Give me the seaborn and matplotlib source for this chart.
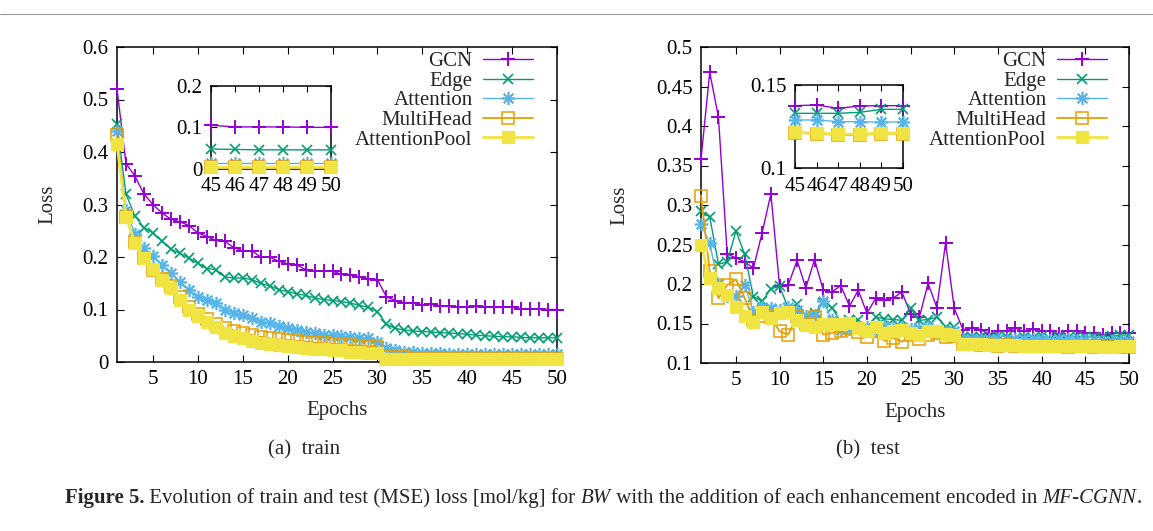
import numpy as np
import pandas as pd
import matplotlib
matplotlib.use("Agg")
import matplotlib.pyplot as plt
from matplotlib.lines import Line2D
from matplotlib.ticker import FuncFormatter, FixedLocator
import seaborn as sns

sns.set_style("ticks")
plt.rcParams['font.family'] = ['Liberation Serif', 'DejaVu Serif']
plt.rcParams['axes.linewidth'] = 1.1

epochs = list(range(1, 51))
series = ["GCN", "Edge", "Attention", "MultiHead", "AttentionPool"]

train_gcn = [0.520, 0.378, 0.354, 0.320, 0.300, 0.284, 0.272, 0.267, 0.260, 0.246,
             0.239, 0.232, 0.230, 0.218, 0.212, 0.212, 0.200, 0.200, 0.192, 0.187,
             0.185, 0.176, 0.173, 0.173, 0.173, 0.167, 0.166, 0.162, 0.159, 0.157,
             0.124, 0.117, 0.113, 0.112, 0.109, 0.110, 0.107, 0.107, 0.105, 0.105,
             0.106, 0.105, 0.104, 0.104, 0.105, 0.101, 0.101, 0.101, 0.100, 0.100]
train_edge = [0.453, 0.320, 0.278, 0.256, 0.246, 0.230, 0.215, 0.207, 0.198, 0.188,
              0.178, 0.176, 0.162, 0.160, 0.160, 0.157, 0.150, 0.145, 0.138, 0.134,
              0.130, 0.127, 0.122, 0.119, 0.117, 0.115, 0.112, 0.108, 0.104, 0.096,
              0.072, 0.064, 0.061, 0.059, 0.058, 0.057, 0.056, 0.055, 0.054, 0.053,
              0.051, 0.050, 0.049, 0.048, 0.048, 0.047, 0.046, 0.046, 0.046, 0.046]
train_att = [0.440, 0.290, 0.244, 0.218, 0.201, 0.185, 0.169, 0.153, 0.137, 0.124,
             0.118, 0.112, 0.100, 0.093, 0.090, 0.083, 0.077, 0.074, 0.069, 0.064,
             0.061, 0.058, 0.055, 0.052, 0.052, 0.049, 0.048, 0.046, 0.045, 0.039,
             0.026, 0.022, 0.020, 0.019, 0.018, 0.017, 0.017, 0.016, 0.016, 0.015,
             0.015, 0.015, 0.015, 0.015, 0.015, 0.015, 0.015, 0.015, 0.015, 0.015]
train_mh = [0.432, 0.276, 0.229, 0.199, 0.176, 0.158, 0.144, 0.123, 0.105, 0.092,
            0.082, 0.073, 0.065, 0.060, 0.055, 0.051, 0.048, 0.045, 0.043, 0.042,
            0.040, 0.039, 0.037, 0.036, 0.035, 0.034, 0.032, 0.031, 0.030, 0.029,
            0.010, 0.009, 0.009, 0.008, 0.008, 0.008, 0.007, 0.007, 0.007, 0.007,
            0.007, 0.006, 0.006, 0.006, 0.006, 0.006, 0.006, 0.006, 0.006, 0.006]
train_ap = [0.415, 0.277, 0.227, 0.198, 0.177, 0.156, 0.141, 0.118, 0.099, 0.088,
            0.076, 0.067, 0.056, 0.049, 0.045, 0.040, 0.037, 0.035, 0.033, 0.030,
            0.029, 0.027, 0.025, 0.024, 0.023, 0.022, 0.020, 0.019, 0.018, 0.017,
            0.006, 0.006, 0.005, 0.005, 0.005, 0.005, 0.005, 0.005, 0.005, 0.005,
            0.005, 0.005, 0.005, 0.005, 0.005, 0.005, 0.005, 0.005, 0.005, 0.005]

test_gcn = [0.358, 0.468, 0.411, 0.238, 0.233, 0.228, 0.220, 0.265, 0.314, 0.197,
            0.199, 0.230, 0.195, 0.231, 0.192, 0.190, 0.198, 0.172, 0.192, 0.163,
            0.182, 0.180, 0.182, 0.190, 0.162, 0.158, 0.201, 0.170, 0.252, 0.169,
            0.142, 0.144, 0.142, 0.137, 0.140, 0.141, 0.144, 0.140, 0.143, 0.140,
            0.140, 0.137, 0.141, 0.141, 0.1376, 0.1380, 0.1360, 0.1374, 0.1376, 0.1376]
test_edge = [0.292, 0.285, 0.225, 0.228, 0.267, 0.238, 0.184, 0.178, 0.194, 0.197,
             0.169, 0.175, 0.160, 0.163, 0.176, 0.170, 0.152, 0.154, 0.154, 0.145,
             0.158, 0.156, 0.155, 0.154, 0.169, 0.154, 0.155, 0.158, 0.146, 0.145,
             0.133, 0.133, 0.133, 0.132, 0.134, 0.133, 0.131, 0.133, 0.132, 0.134,
             0.131, 0.133, 0.132, 0.134, 0.1330, 0.1330, 0.1330, 0.1336, 0.1354, 0.1354]
test_att = [0.2755, 0.2515, 0.200, 0.185, 0.185, 0.199, 0.165, 0.171, 0.169, 0.167,
            0.171, 0.167, 0.160, 0.161, 0.178, 0.154, 0.142, 0.143, 0.146, 0.145,
            0.141, 0.147, 0.144, 0.146, 0.143, 0.144, 0.146, 0.140, 0.139, 0.140,
            0.131, 0.130, 0.131, 0.130, 0.130, 0.131, 0.130, 0.130, 0.131, 0.130,
            0.129, 0.130, 0.130, 0.129, 0.1290, 0.1290, 0.1280, 0.1280, 0.1276, 0.1280]
test_mh = [0.312, 0.216, 0.182, 0.199, 0.206, 0.182, 0.155, 0.160, 0.158, 0.140,
           0.136, 0.160, 0.150, 0.158, 0.136, 0.138, 0.140, 0.144, 0.139, 0.133,
           0.140, 0.128, 0.132, 0.127, 0.135, 0.130, 0.135, 0.138, 0.133, 0.134,
           0.124, 0.124, 0.123, 0.123, 0.122, 0.123, 0.122, 0.122, 0.121, 0.121,
           0.121, 0.121, 0.120, 0.121, 0.1212, 0.1208, 0.1200, 0.1200, 0.1208, 0.1208]
test_ap = [0.250, 0.207, 0.195, 0.186, 0.171, 0.160, 0.152, 0.164, 0.157, 0.163,
           0.165, 0.154, 0.148, 0.146, 0.149, 0.150, 0.150, 0.151, 0.144, 0.140,
           0.146, 0.138, 0.140, 0.142, 0.138, 0.136, 0.141, 0.140, 0.137, 0.135,
           0.124, 0.124, 0.124, 0.123, 0.123, 0.123, 0.123, 0.122, 0.122, 0.122,
           0.122, 0.122, 0.122, 0.122, 0.1215, 0.1212, 0.1205, 0.1205, 0.1212, 0.1212]

train_ticks_y = [0, 0.1, 0.2, 0.3, 0.4, 0.5, 0.6]
test_ticks_y = [0.1, 0.15, 0.2, 0.25, 0.3, 0.35, 0.4, 0.45, 0.5]
ticks_x = [5, 10, 15, 20, 25, 30, 35, 40, 45, 50]
inset_ticks_x = [45, 46, 47, 48, 49, 50]
train_inset_y = [0, 0.1, 0.2]
test_inset_y = [0.1, 0.15]

colors = ["#9400d3", "#009e73", "#56b4e9", "#e69f00", "#f0e442"]
styles = [
    dict(marker="+", markersize=9.5, markeredgewidth=1.4, linewidth=1.0, markerfacecolor="none"),
    dict(marker="x", markersize=7.5, markeredgewidth=1.2, linewidth=1.0, markerfacecolor="none"),
    dict(marker=(8, 2, 0), markersize=9.5, markeredgewidth=1.2, linewidth=1.0, markerfacecolor="none"),
    dict(marker="s", markersize=8, markeredgewidth=1.1, linewidth=1.3, markerfacecolor="none"),
    dict(marker="s", markersize=8.5, markeredgewidth=0.8, linewidth=2.0),
]

FS = 15

train_df = pd.DataFrame({"Epoch": epochs, "GCN": train_gcn, "Edge": train_edge,
                         "Attention": train_att, "MultiHead": train_mh,
                         "AttentionPool": train_ap})
test_df = pd.DataFrame({"Epoch": epochs, "GCN": test_gcn, "Edge": test_edge,
                        "Attention": test_att, "MultiHead": test_mh,
                        "AttentionPool": test_ap})

fig = plt.figure(figsize=(11.53, 5.31), dpi=100)

fmt = FuncFormatter(lambda v, p: f"{v:g}")


def draw(ax, df, label=True):
    for name, c, st in zip(series, colors, styles):
        kw = dict(st)
        if name == "AttentionPool":
            kw["markerfacecolor"] = c
        sns.lineplot(data=df, x="Epoch", y=name, ax=ax, color=c,
                     markeredgecolor=c, clip_on=False, zorder=3,
                     label=name if label else None, legend=False, **kw)


def style(ax, xt, yt, xlim, ylim, pad=6):
    ax.set_xlim(*xlim)
    ax.set_ylim(*ylim)
    ax.xaxis.set_major_locator(FixedLocator(xt))
    ax.yaxis.set_major_locator(FixedLocator(yt))
    ax.yaxis.set_major_formatter(fmt)
    ax.xaxis.set_major_formatter(fmt)
    ax.tick_params(direction="in", top=True, right=True, length=5, width=0.8,
                   labelsize=FS, pad=pad, colors="black")
    for s in ax.spines.values():
        s.set_visible(True)
        s.set_color("black")
    ax.set_xlabel("")
    ax.set_ylabel("")


# main axes
axL = fig.add_axes([117 / 1153, 1 - 362 / 531, 440 / 1153, 315 / 531])
axR = fig.add_axes([701 / 1153, 1 - 363 / 531, 428 / 1153, 316 / 531])

draw(axL, train_df)
style(axL, ticks_x, train_ticks_y, (1, 50), (0, 0.6))
draw(axR, test_df)
style(axR, ticks_x, test_ticks_y, (1, 50), (0.1, 0.5))

for ax, left, width, ylab_x, anchor in ((axL, 117, 440, 48, (1 - 24 / 440, 0.985)),
                                        (axR, 701, 428, 620, (1 - 22 / 428, 0.985))):
    ax.set_xlabel("Epochs", fontsize=FS)
    ax.set_ylabel("Loss", fontsize=FS)
    ax.xaxis.label.set_va("center")
    ax.yaxis.label.set_va("center")
    ax.xaxis.set_label_coords(0.5, -49 / 315)
    ax.yaxis.set_label_coords((ylab_x - left) / width, 0.5)
    h, l = ax.get_legend_handles_labels()
    ax.legend(h, l, loc="upper right", bbox_to_anchor=anchor,
              frameon=False, markerfirst=False, fontsize=FS,
              handlelength=2.4, handletextpad=0.5, labelspacing=0.0,
              borderpad=0.0, borderaxespad=0.0)

# insets
insL = fig.add_axes([211 / 1153, 1 - 169 / 531, 120 / 1153, 83.3 / 531])
insR = fig.add_axes([795 / 1153, 1 - 168.3 / 531, 108 / 1153, 83.3 / 531])
sub_train = train_df[train_df["Epoch"] >= 45]
sub_test = test_df[test_df["Epoch"] >= 45]
draw(insL, sub_train, label=False)
style(insL, inset_ticks_x, train_inset_y, (45, 50), (0, 0.2), pad=6)
draw(insR, sub_test, label=False)
style(insR, inset_ticks_x, test_inset_y, (45, 50), (0.1, 0.15), pad=6)
for ins in (insL, insR):
    ins.tick_params(length=4)
    ins.set_facecolor("white")

# sub captions and caption
fig.text(304 / 1153, 1 - 450 / 531, "(a)  train", ha="center", va="center", fontsize=FS)
fig.text(868 / 1153, 1 - 450 / 531, "(b)  test", ha="center", va="center", fontsize=FS)

y_cap = 1 - 508 / 531
t1 = fig.text(65 / 1153, y_cap, "Figure 5.", fontsize=FS, weight="bold", va="bottom")
pieces = [(" Evolution of train and test (MSE) loss [mol/kg] for ", "normal"),
          ("BW", "italic"),
          (" with the addition of each enhancement encoded in ", "normal"),
          ("MF-CGNN", "italic"),
          (".", "normal")]
prev = t1
for txt, st in pieces:
    prev = plt.annotate(txt, xy=(1, 0), xycoords=prev, va="bottom", ha="left",
                        fontsize=FS, style=st, annotation_clip=False)

# top rule
fig.add_artist(Line2D([0, 1], [1 - 14 / 531, 1 - 14 / 531], color="#999999", lw=0.8))

fig.savefig("out.png", dpi=100)
